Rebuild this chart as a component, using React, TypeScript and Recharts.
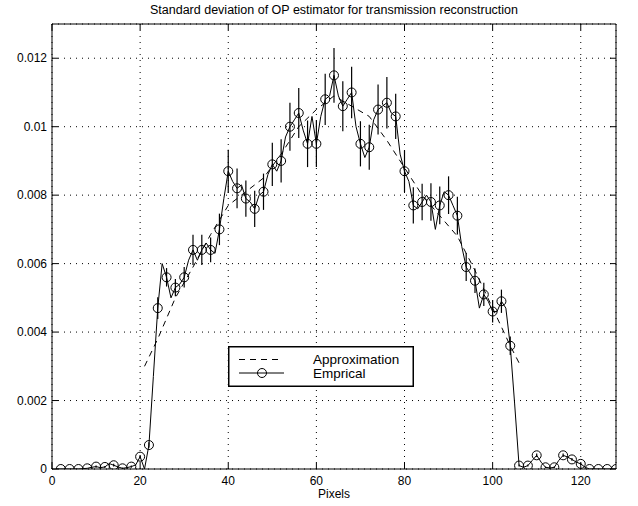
import React from "react";
import {
  LineChart,
  Line,
  XAxis,
  YAxis,
  CartesianGrid,
  ErrorBar,
} from "recharts";

// empirical std per pixel (pixels 1..128)
const empirical = [
  0, 0, 0, 0, 0, 0, 0.00001, 0.00002, 0.00005, 0.00007,
  0.00004, 0.00006, 0.00016, 0.00011, 0.00006, 0.00002, 0.00004, 0.00007, 0.00012, 0.00036,
  0, 0.0007, 0.0027, 0.0047, 0.006, 0.0056, 0.005, 0.0053, 0.0054, 0.0056,
  0.0061, 0.0064, 0.0061, 0.0064, 0.0066, 0.0064, 0.0063, 0.007, 0.0079, 0.0087,
  0.0084, 0.0082, 0.0083, 0.0079, 0.0078, 0.0076, 0.008, 0.0081, 0.0086, 0.0089,
  0.0087, 0.009, 0.0097, 0.01, 0.0102, 0.0104, 0.0099, 0.0095, 0.0103, 0.0095,
  0.0103, 0.0108, 0.0109, 0.0115, 0.0109, 0.0106, 0.0108, 0.011, 0.01, 0.0095,
  0.0091, 0.0094, 0.0102, 0.0105, 0.0106, 0.0107, 0.0104, 0.0103, 0.0092, 0.0087,
  0.0084, 0.0077, 0.0076, 0.0078, 0.008, 0.0078, 0.007, 0.0077, 0.0081, 0.008,
  0.0077, 0.0074, 0.0065, 0.0059, 0.0057, 0.0055, 0.0047, 0.0051, 0.0049, 0.0046,
  0.0046, 0.0049, 0.0047, 0.0036, 0.0019, 0.0001, 0.00005, 0.0001, 0.00025, 0.0004,
  0.0002, 0.00005, 0.00003, 0.00005, 0.00025, 0.0004, 0.00035, 0.00028, 0.0002, 0.00015,
  0.00005, 0, 0, 0, 0, 0, 0, 0,
];

// error bar half-lengths at the marked (even) pixels 2,4,...,128
const errors = [
  0, 0, 0, 0, 0.00003, 0.00003, 0.00004, 0.00002, 0.00003,
  0.00005, 0.00008, 0.00032, 0.00027, 0.00025, 0.0003, 0.00044, 0.00044, 0.00036, 0.00046,
  0.00063, 0.00058, 0.00053, 0.00053, 0.00053, 0.00063, 0.00063, 0.0007, 0.00073, 0.00068,
  0.00068, 0.00075, 0.0008, 0.00073, 0.00075, 0.00066, 0.00066, 0.00073, 0.00075, 0.00066,
  0.00061, 0.00053, 0.00053, 0.00055, 0.00055, 0.00055, 0.00055, 0.00041, 0.00036, 0.00034,
  0.00032, 0.00034, 0.00027,
  0.00003, 0.00003, 0.00005, 0.00002, 0.00002, 0.00005, 0.00004, 0.00003, 0, 0, 0, 0,
];

const approxX = [21, 24, 28, 32, 36, 40, 44, 48, 52, 56, 60, 64, 68, 72, 76, 80, 84, 88, 92, 96, 100, 104, 106];
const approxY = [
  0.003, 0.0038, 0.005, 0.0059, 0.00685, 0.0077, 0.0081, 0.0085, 0.0092, 0.01, 0.0105, 0.0109,
  0.0106, 0.0103, 0.0096, 0.0088, 0.008, 0.0074, 0.0068, 0.0058, 0.0047, 0.0036, 0.0031,
];

const xTicks = [0, 20, 40, 60, 80, 100, 120];
const yTicks = [0, 0.002, 0.004, 0.006, 0.008, 0.01, 0.012];

const empData = empirical.map((v, i) => ({ x: i + 1, y: v }));
const markData = empData
  .filter((d) => d.x % 2 === 0)
  .map((d, i) => ({ ...d, err: errors[i] }));
const approxData = approxX.map((x, i) => ({ x, y: approxY[i] }));

const FONT = "'Liberation Sans', Arial, Helvetica, sans-serif";
const tickStyle = { fill: "#000", fontSize: 12, fontFamily: FONT };

const LegendBox = () => (
  <svg
    width={186}
    height={41}
    style={{ position: "absolute", left: 228, top: 346, display: "block" }}
  >
    <rect x={0.75} y={0.75} width={184.5} height={39.5} fill="#fff" stroke="#000" strokeWidth={1.5} />
    <line x1={11} y1={13.5} x2={50} y2={13.5} stroke="#000" strokeDasharray="6 5" />
    <text x={85} y={18} fontSize={13.5} fontFamily={FONT}>Approximation</text>
    <line x1={11} y1={27} x2={56} y2={27} stroke="#000" />
    <circle cx={34} cy={27} r={4.5} fill="none" stroke="#000" />
    <text x={85} y={31.5} fontSize={13.5} fontFamily={FONT}>Emprical</text>
  </svg>
);

export default function App() {
  return (
    <div style={{ position: "absolute", left: 0, top: 0, width: 638, height: 506, background: "#fff" }}>
      <div
        style={{
          position: "absolute",
          left: 52,
          width: 564,
          top: 3,
          textAlign: "center",
          fontFamily: FONT,
          fontSize: 12.5,
        }}
      >
        Standard deviation of OP estimator for transmission reconstruction
      </div>
      <LineChart
        width={638}
        height={506}
        margin={{ top: 23, right: 21, bottom: 0, left: 0 }}
      >
        <CartesianGrid stroke="#000" strokeDasharray="1 5" />
        <XAxis
          dataKey="x"
          type="number"
          domain={[0, 128]}
          ticks={xTicks}
          allowDataOverflow
          height={37}
          tickSize={-6}
          tickMargin={13}
          tick={tickStyle}
          stroke="#000"
          label={{ value: "Pixels", position: "insideBottom", offset: 8, fill: "#000", fontSize: 12, fontFamily: FONT }}
        />
        <XAxis
          xAxisId="top"
          orientation="top"
          dataKey="x"
          type="number"
          domain={[0, 128]}
          ticks={xTicks}
          allowDataOverflow
          height={1}
          tickSize={-6}
          tickFormatter={() => ""}
          stroke="#000"
        />
        <YAxis
          type="number"
          domain={[0, 0.013]}
          ticks={yTicks}
          allowDataOverflow
          width={52}
          tickSize={-6}
          tickMargin={11}
          tick={tickStyle}
          tickFormatter={(v: number) => (v === 0 ? "0" : String(+v.toFixed(3)))}
          stroke="#000"
        />
        <YAxis
          yAxisId="right"
          orientation="right"
          type="number"
          domain={[0, 0.013]}
          ticks={yTicks}
          allowDataOverflow
          width={1}
          tickSize={-6}
          tickFormatter={() => ""}
          stroke="#000"
        />
        {/* invisible series so the top/right frame axes get drawn */}
        <Line
          xAxisId="top"
          yAxisId="right"
          data={empData}
          dataKey="y"
          stroke="none"
          dot={false}
          isAnimationActive={false}
        />
        <Line
          data={approxData}
          dataKey="y"
          stroke="#000"
          strokeWidth={1}
          strokeDasharray="6 5"
          dot={false}
          isAnimationActive={false}
        />
        <Line
          data={empData}
          dataKey="y"
          stroke="#000"
          strokeWidth={1}
          dot={false}
          isAnimationActive={false}
        />
        <Line
          data={markData}
          dataKey="y"
          stroke="none"
          dot={{ r: 4.5, fill: "none", stroke: "#000", strokeWidth: 1 }}
          isAnimationActive={false}
        >
          <ErrorBar dataKey="err" width={0} stroke="#000" strokeWidth={1.2} direction="y" />
        </Line>
      </LineChart>
      <LegendBox />
    </div>
  );
}
